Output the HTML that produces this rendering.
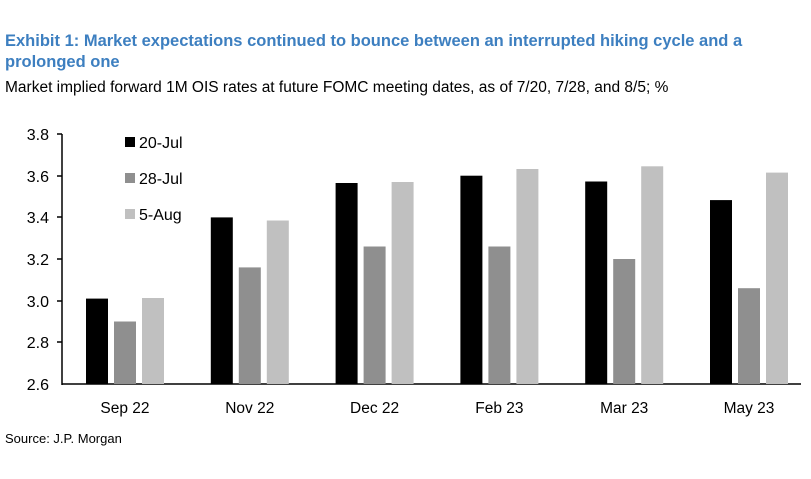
<!DOCTYPE html>
<html><head><style>
body{margin:0;width:811px;height:474px;background:#fff;font-family:"Liberation Sans",sans-serif;overflow:hidden}
</style></head><body>
<svg width="811" height="474" xmlns="http://www.w3.org/2000/svg" font-family="Liberation Sans, sans-serif">
<text x="5" y="46" font-size="16.5" font-weight="bold" fill="#3d7fc0">Exhibit 1: Market expectations continued to bounce between an interrupted hiking cycle and a</text>
<text x="5" y="67" font-size="16.5" font-weight="bold" fill="#3d7fc0">prolonged one</text>
<text x="5" y="92" font-size="15.5" fill="#000">Market implied forward 1M OIS rates at future FOMC meeting dates, as of 7/20, 7/28, and 8/5; %</text>
<g font-size="16" fill="#000" text-anchor="end">
<text x="49" y="140">3.8</text><text x="49" y="182">3.6</text><text x="49" y="223">3.4</text>
<text x="49" y="265">3.2</text><text x="49" y="307">3.0</text><text x="49" y="348">2.8</text><text x="49" y="390">2.6</text>
</g>
<g stroke="#000" stroke-width="1.5">
<line x1="62" y1="134" x2="62" y2="385"/><line x1="62" y1="384" x2="801" y2="384"/>
<line x1="57" y1="134" x2="62" y2="134"/><line x1="57" y1="176" x2="62" y2="176"/><line x1="57" y1="217" x2="62" y2="217"/>
<line x1="57" y1="259" x2="62" y2="259"/><line x1="57" y1="301" x2="62" y2="301"/><line x1="57" y1="342" x2="62" y2="342"/>
</g>
<g>
<rect x="86" y="298.6" width="22" height="85.4" fill="#000"/>
<rect x="114" y="321.5" width="22" height="62.5" fill="#8f8f8f"/>
<rect x="142" y="298" width="22" height="86" fill="#c0c0c0"/>
<rect x="210.8" y="217.4" width="22" height="166.6" fill="#000"/>
<rect x="238.8" y="267.4" width="22" height="116.6" fill="#8f8f8f"/>
<rect x="266.8" y="220.5" width="22" height="163.5" fill="#c0c0c0"/>
<rect x="335.6" y="183" width="22" height="201" fill="#000"/>
<rect x="363.6" y="246.5" width="22" height="137.5" fill="#8f8f8f"/>
<rect x="391.6" y="182" width="22" height="202" fill="#c0c0c0"/>
<rect x="460.4" y="175.7" width="22" height="208.3" fill="#000"/>
<rect x="488.4" y="246.5" width="22" height="137.5" fill="#8f8f8f"/>
<rect x="516.4" y="169" width="22" height="215" fill="#c0c0c0"/>
<rect x="585.2" y="181.5" width="22" height="202.5" fill="#000"/>
<rect x="613.2" y="259" width="22" height="125" fill="#8f8f8f"/>
<rect x="641.2" y="166.3" width="22" height="217.7" fill="#c0c0c0"/>
<rect x="710" y="200.1" width="22" height="183.9" fill="#000"/>
<rect x="738" y="288.2" width="22" height="95.8" fill="#8f8f8f"/>
<rect x="766" y="172.6" width="22" height="211.4" fill="#c0c0c0"/>
</g>
<g font-size="16" fill="#000">
<rect x="125" y="137" width="10" height="10" fill="#000"/><text x="139" y="148">20-Jul</text>
<rect x="125" y="173" width="10" height="10" fill="#8f8f8f"/><text x="139" y="184">28-Jul</text>
<rect x="125" y="209" width="10" height="10" fill="#c0c0c0"/><text x="139" y="220">5-Aug</text>
</g>
<g font-size="15.5" fill="#000" text-anchor="middle">
<text x="125" y="413">Sep 22</text>
<text x="249.8" y="413">Nov 22</text>
<text x="374.6" y="413">Dec 22</text>
<text x="499.4" y="413">Feb 23</text>
<text x="624.2" y="413">Mar 23</text>
<text x="749" y="413">May 23</text>
</g>
<text x="5" y="443" font-size="13" fill="#000">Source: J.P. Morgan</text>
</svg>
</body></html>
